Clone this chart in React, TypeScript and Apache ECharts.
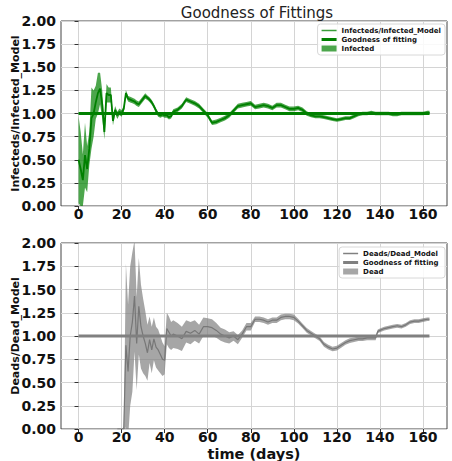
import React, { useEffect, useRef } from "react";
import * as echarts from "echarts";

// ---------- data ----------
const infDays = [
  0, 1, 2, 3, 4, 5, 6, 7, 8, 9, 10, 11, 12, 13, 14, 15, 16, 17, 18, 19, 20, 21, 22, 23, 24, 25, 26, 27, 28, 29,
  30, 31, 32, 33, 34, 35, 36, 37, 38, 39, 40, 41, 42, 43, 44, 46, 48, 50, 52, 54, 56, 58, 60, 62, 64, 66, 68, 70,
  72, 74, 76, 78, 80, 82, 84, 86, 88, 90, 92, 94, 96, 98, 100, 102, 104, 106, 108, 110, 112, 114, 116, 118, 120,
  122, 124, 126, 128, 130, 132, 134, 136, 138, 140, 142, 144, 146, 148, 150, 152, 154, 156, 158, 160, 162, 163,
];
const infRatio = [
  0.5, 0.4, 0.28, 0.55, 0.4, 0.62, 0.95, 1.0, 1.12, 1.22, 1.27, 1.1, 0.8, 1.22, 1.2, 1.2, 0.92, 1.04, 0.98, 1.02,
  1.0, 1.05, 1.22, 1.16, 1.15, 1.14, 1.13, 1.11, 1.1, 1.13, 1.16, 1.19, 1.17, 1.15, 1.12, 1.08, 1.03, 0.99, 0.98,
  0.99, 0.98, 0.98, 0.96, 0.97, 1.02, 1.04, 1.08, 1.15, 1.13, 1.11, 1.08, 1.03, 0.98, 0.9, 0.91, 0.93, 0.95, 0.98,
  1.03, 1.08, 1.09, 1.1, 1.11, 1.07, 1.08, 1.09, 1.08, 1.06, 1.09, 1.09, 1.07, 1.05, 1.05, 1.06, 1.04, 1.0, 0.98,
  0.97, 0.97, 0.96, 0.95, 0.94, 0.93, 0.94, 0.95, 0.95, 0.97, 0.99, 1.0, 1.0, 1.01, 1.0, 1.0, 1.0, 1.0, 0.99, 0.99,
  1.0, 1.0, 1.0, 1.0, 1.0, 1.0, 1.01, 1.01,
];
const infSpread = [
  0.47, 0.4, 0.28, 0.35, 0.25, 0.18, 0.33, 0.25, 0.18, 0.22, 0.17, 0.15, 0.08, 0.1, 0.08, 0.08, 0.05, 0.04, 0.04,
  0.035, 0.035, 0.035, 0.035, 0.03, 0.03, 0.03, 0.03, 0.03, 0.03, 0.03, 0.03, 0.03, 0.025, 0.025, 0.025, 0.025,
  0.025, 0.025, 0.025, 0.025, 0.025, 0.025, 0.025, 0.025, 0.025, 0.025, 0.025, 0.025, 0.025, 0.025, 0.025, 0.025,
  0.025, 0.025, 0.025, 0.025, 0.025, 0.025, 0.025, 0.025, 0.025, 0.025, 0.025, 0.025, 0.025, 0.025, 0.025, 0.025,
  0.025, 0.025, 0.025, 0.025, 0.025, 0.025, 0.025, 0.025, 0.02, 0.02, 0.02, 0.02, 0.02, 0.02, 0.02, 0.02, 0.02,
  0.02, 0.02, 0.02, 0.02, 0.02, 0.02, 0.02, 0.02, 0.02, 0.02, 0.02, 0.02, 0.02, 0.02, 0.02, 0.02, 0.02, 0.02,
  0.02, 0.02,
];

const deadDays = [
  18, 19, 20, 21, 22, 23, 24, 25, 26, 27, 28, 29, 30, 31, 32, 33, 34, 35, 36, 37, 38, 39, 40, 41, 42, 43, 44, 46,
  48, 50, 52, 54, 56, 58, 60, 62, 64, 66, 68, 70, 72, 74, 76, 78, 80, 82, 84, 86, 88, 90, 92, 94, 96, 98, 100, 102,
  104, 106, 108, 110, 112, 114, 116, 118, 120, 122, 124, 126, 128, 130, 132, 134, 136, 138, 139, 140, 142, 144, 146,
  148, 150, 152, 154, 156, 158, 160, 162, 163,
];
const deadRatio = [
  0, 0, 0, 0, 0.9, 0.62, 1.0, 1.15, 1.43, 0.92, 1.32, 1.1, 1.0, 0.92, 0.82, 0.96, 0.85, 0.97, 0.88, 0.85, 0.8, 0.75,
  0.74, 1.08, 1.04, 1.0, 1.02, 1.0, 0.97, 1.05, 1.03, 1.06, 1.02, 1.1, 1.1, 1.09, 1.06, 1.02, 1.0, 0.98, 1.0, 0.96,
  1.02, 1.1, 1.1, 1.18, 1.18, 1.17, 1.15, 1.17, 1.17, 1.2, 1.21, 1.21, 1.2, 1.16, 1.11, 1.06, 1.03, 1.0, 0.97, 0.91,
  0.88, 0.86, 0.87, 0.9, 0.93, 0.95, 0.96, 0.97, 0.97, 0.98, 0.98, 0.98, 1.05, 1.06, 1.08, 1.09, 1.1, 1.11, 1.1,
  1.12, 1.15, 1.16, 1.16, 1.17, 1.18, 1.18,
];
const deadSpread = [
  0, 0, 0, 0.02, 0.88, 0.72, 0.75, 0.75, 0.6, 0.5, 0.52, 0.45, 0.4, 0.35, 0.3, 0.25, 0.25, 0.23, 0.22, 0.22, 0.2,
  0.18, 0.15, 0.17, 0.17, 0.15, 0.15, 0.14, 0.13, 0.12, 0.12, 0.11, 0.1, 0.1, 0.09, 0.09, 0.08, 0.07, 0.07, 0.06,
  0.05, 0.05, 0.04, 0.04, 0.04, 0.03, 0.03, 0.03, 0.03, 0.03, 0.03, 0.03, 0.03, 0.03, 0.03, 0.025, 0.025, 0.025,
  0.025, 0.025, 0.025, 0.025, 0.025, 0.025, 0.025, 0.025, 0.025, 0.025, 0.025, 0.025, 0.025, 0.025, 0.025, 0.025,
  0.02, 0.02, 0.02, 0.02, 0.02, 0.02, 0.02, 0.02, 0.02, 0.02, 0.02, 0.02, 0.02, 0.02,
];

const fitDays = [0, 163];
const fitValues = [1, 1];

const xTicks = [0, 20, 40, 60, 80, 100, 120, 140, 160];
const yTicks = [0, 0.25, 0.5, 0.75, 1, 1.25, 1.5, 1.75, 2];

const FONT = "DejaVu Sans";

function pairs(xs: number[], ys: number[]) {
  return xs.map((x, i) => [x, ys[i]]);
}

function band(name: string, days: number[], vals: number[], spread: number[], color: string, idx: number) {
  return {
    type: "custom",
    name,
    xAxisIndex: idx,
    yAxisIndex: idx,
    clip: true,
    silent: true,
    z: 1,
    data: [[days[0], vals[0]]],
    renderItem: (_params: any, api: any) => {
      const upper = days.map((d, i) => api.coord([d, vals[i] + spread[i]]));
      const lower = days.map((d, i) => api.coord([d, vals[i] - spread[i]])).reverse();
      return {
        type: "polygon",
        shape: { points: upper.concat(lower) },
        style: { fill: color, stroke: null },
      };
    },
  };
}

function xAxis(idx: number, withName: boolean) {
  return {
    type: "value",
    gridIndex: idx,
    min: -8.15,
    max: 171.15,
    name: withName ? "time (days)" : "",
    nameLocation: "middle",
    nameGap: 17.5,
    nameMoveOverlap: false,
    nameTextStyle: { fontFamily: FONT, fontWeight: "bold", fontSize: 14.5, lineHeight: 14, color: "#111" },
    axisLine: { show: false },
    axisTick: { show: true, length: 4, customValues: xTicks, lineStyle: { color: "#333" } },
    axisLabel: {
      customValues: xTicks,
      margin: 1,
      fontFamily: FONT,
      fontWeight: "bold",
      fontSize: 14,
      lineHeight: 13,
      color: "#111",
    },
    splitLine: { show: true, lineStyle: { color: "#d4d4d4", width: 1 } },
  };
}

function yAxis(idx: number, name: string) {
  return {
    type: "value",
    gridIndex: idx,
    min: 0,
    max: 2,
    name,
    nameLocation: "middle",
    nameGap: 40,
    nameMoveOverlap: false,
    nameTextStyle: { fontFamily: FONT, fontWeight: "bold", fontSize: 11, color: "#111" },
    axisLine: { show: false },
    axisTick: { show: true, length: 4, customValues: yTicks, lineStyle: { color: "#333" } },
    axisLabel: {
      customValues: yTicks,
      margin: 5,
      fontFamily: FONT,
      fontWeight: "bold",
      fontSize: 14,
      color: "#111",
      formatter: (v: number) => v.toFixed(2),
    },
    splitLine: { show: true, lineStyle: { color: "#d4d4d4", width: 1 } },
  };
}

function legend(top: number, items: any[]) {
  return {
    orient: "vertical",
    right: 7,
    top,
    itemWidth: 15,
    itemHeight: 6,
    itemGap: 2,
    padding: [3, 4, 3, 4],
    borderColor: "#d8d8d8",
    borderWidth: 1,
    borderRadius: 3,
    backgroundColor: "rgba(255,255,255,0.85)",
    selectedMode: false,
    textStyle: { fontFamily: FONT, fontWeight: "bold", fontSize: 7, color: "#111" },
    data: items,
  };
}

export default function App() {
  const ref = useRef<HTMLDivElement>(null);
  useEffect(() => {
    if (!ref.current) return;
    const chart = echarts.init(ref.current, undefined, { renderer: "svg" });
    const green = "#008000";
    const greenBand = "rgba(0,128,0,0.7)";
    const greenLine = "#3a9e3a";
    const gray = "#808080";
    const grayBand = "rgba(128,128,128,0.7)";
    const thinLine = "path://M0,0H10V1H0Z";
    const thickLine = "path://M0,0H10V2H0Z";
    const gridBase = {
      show: true,
      borderColor: "#444",
      borderWidth: 1,
      backgroundColor: "transparent",
      containLabel: false,
      outerBoundsMode: "none",
    };
    chart.setOption({
      animation: false,
      backgroundColor: "#fff",
      title: {
        text: "Goodness of Fittings",
        left: 252,
        top: 0,
        textAlign: "center",
        textStyle: { fontFamily: FONT, fontWeight: "normal", fontSize: 15, color: "#222" },
      },
      grid: [
        { ...gridBase, left: 61, top: 21, width: 386, height: 185 },
        { ...gridBase, left: 61, top: 243, width: 386, height: 186 },
      ],
      xAxis: [xAxis(0, false), xAxis(1, true)],
      yAxis: [yAxis(0, "Infecteds/Infected_Model"), yAxis(1, "Deads/Dead_Model")],
      legend: [
        legend(24, [
          { name: "Infecteds/Infected_Model", icon: thinLine, itemStyle: { color: greenLine } },
          { name: "Goodness of fitting", icon: thickLine, itemStyle: { color: green } },
          { name: "Infected", icon: "rect", itemStyle: { color: greenBand } },
        ]),
        legend(247, [
          { name: "Deads/Dead_Model", icon: thinLine, itemStyle: { color: gray } },
          { name: "Goodness of fitting ", icon: thickLine, itemStyle: { color: gray } },
          { name: "Dead", icon: "rect", itemStyle: { color: grayBand } },
        ]),
      ],
      series: [
        band("Infected", infDays, infRatio, infSpread, greenBand, 0),
        {
          type: "line",
          name: "Infecteds/Infected_Model",
          xAxisIndex: 0,
          yAxisIndex: 0,
          data: pairs(infDays, infRatio),
          symbol: "none",
          z: 3,
          lineStyle: { color: green, width: 1.8 },
          itemStyle: { color: greenLine },
        },
        {
          type: "line",
          name: "Goodness of fitting",
          xAxisIndex: 0,
          yAxisIndex: 0,
          data: pairs(fitDays, fitValues),
          symbol: "none",
          z: 4,
          lineStyle: { color: green, width: 3 },
          itemStyle: { color: green },
        },
        band("Dead", deadDays, deadRatio, deadSpread, grayBand, 1),
        {
          type: "line",
          name: "Deads/Dead_Model",
          xAxisIndex: 1,
          yAxisIndex: 1,
          data: pairs(deadDays, deadRatio),
          symbol: "none",
          z: 3,
          lineStyle: { color: "#777", width: 1.2 },
          itemStyle: { color: gray },
        },
        {
          type: "line",
          name: "Goodness of fitting ",
          xAxisIndex: 1,
          yAxisIndex: 1,
          data: pairs(fitDays, fitValues),
          symbol: "none",
          z: 4,
          lineStyle: { color: gray, width: 3 },
          itemStyle: { color: gray },
        },
      ],
    });
    return () => chart.dispose();
  }, []);
  return <div ref={ref} style={{ position: "absolute", left: 0, top: 0, width: 452, height: 461 }} />;
}
